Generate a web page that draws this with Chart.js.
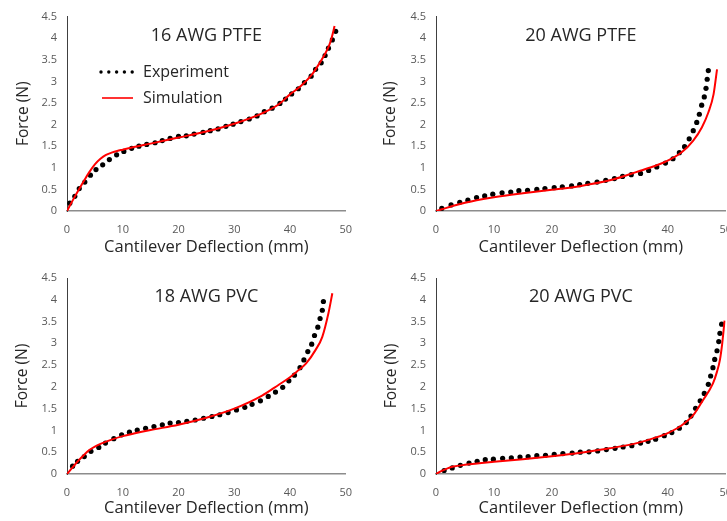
<!DOCTYPE html>
<html>
<head>
<meta charset="utf-8">
<script src="https://cdn.jsdelivr.net/npm/chart.js@4"></script>
<style>
  html, body { margin: 0; padding: 0; background: #fff; overflow: hidden; width: 727px; height: 521px; }
  .panel { position: absolute; }
</style>
</head>
<body>
<div class="panel" style="left:0;top:0"><canvas id="c16ptfe" width="364" height="260"></canvas></div>
<div class="panel" style="left:364px;top:0"><canvas id="c20ptfe" width="380" height="260"></canvas></div>
<div class="panel" style="left:0;top:260px"><canvas id="c18pvc" width="364" height="261"></canvas></div>
<div class="panel" style="left:364px;top:260px"><canvas id="c20pvc" width="380" height="261"></canvas></div>
<script>
// ── DATA ──────────────────────────────────────────────────────────────
const yTicks = [0, 0.5, 1, 1.5, 2, 2.5, 3, 3.5, 4, 4.5];
const xTicks = [0, 10, 20, 30, 40, 50];
const seriesNames = ['Experiment', 'Simulation'];

// 16 AWG PTFE
const ptfe16ExpX = [0.5, 1.4, 2.2, 3.2, 4.2, 5.2, 6.4, 7.6, 8.9, 10.2, 11.6, 12.9, 14.3, 15.8, 17.1, 18.5, 20.0, 21.4, 22.8, 24.4, 25.7, 27.1, 28.5, 29.8, 31.2, 32.7, 34.1, 35.4, 36.8, 38.2, 39.2, 40.3, 41.5, 42.6, 43.8, 44.6, 45.6, 46.3, 46.9, 47.6, 48.2];
const ptfe16ExpY = [0.18, 0.34, 0.52, 0.67, 0.83, 0.96, 1.07, 1.19, 1.30, 1.38, 1.45, 1.50, 1.54, 1.58, 1.63, 1.68, 1.73, 1.74, 1.78, 1.82, 1.86, 1.90, 1.96, 2.01, 2.07, 2.13, 2.20, 2.30, 2.38, 2.49, 2.59, 2.71, 2.83, 2.97, 3.12, 3.28, 3.43, 3.60, 3.77, 3.96, 4.16];
const ptfe16SimX = [0, 1, 2, 3, 4, 5, 6, 7, 8, 9, 10, 12, 15, 20, 25, 30, 35, 38, 40, 42, 44, 45, 46, 47, 47.5, 48];
const ptfe16SimY = [0, 0.24, 0.47, 0.69, 0.90, 1.08, 1.21, 1.30, 1.35, 1.39, 1.42, 1.48, 1.56, 1.70, 1.84, 2.02, 2.26, 2.47, 2.70, 2.90, 3.17, 3.36, 3.57, 3.82, 4.02, 4.28];

// 20 AWG PTFE
const ptfe20ExpX = [1.0, 2.6, 4.1, 5.5, 7.0, 8.4, 9.8, 11.4, 12.9, 14.3, 15.8, 17.4, 18.8, 20.4, 21.8, 23.4, 24.8, 26.2, 27.8, 29.3, 30.8, 32.2, 33.7, 35.3, 36.7, 38.1, 39.6, 40.9, 42.0, 42.9, 43.7, 44.4, 45.0, 45.45, 45.85, 46.3, 46.6, 46.8, 47.0];
const ptfe20ExpY = [0.06, 0.14, 0.20, 0.25, 0.31, 0.35, 0.39, 0.42, 0.44, 0.47, 0.48, 0.50, 0.52, 0.54, 0.56, 0.58, 0.61, 0.64, 0.67, 0.71, 0.75, 0.80, 0.84, 0.87, 0.94, 1.02, 1.11, 1.21, 1.35, 1.49, 1.67, 1.86, 2.05, 2.24, 2.45, 2.64, 2.84, 3.05, 3.25];
const ptfe20SimX = [0, 1, 3, 5, 7, 10, 15, 20, 25, 30, 35, 37.5, 39.6, 42.4, 44.4, 45.9, 47, 47.9, 48.5];
const ptfe20SimY = [0, 0.04, 0.12, 0.19, 0.25, 0.32, 0.41, 0.49, 0.58, 0.71, 0.92, 1.03, 1.14, 1.36, 1.63, 1.94, 2.28, 2.70, 3.28];

// 18 AWG PVC
const pvc18ExpX = [1.0, 1.9, 3.1, 4.3, 5.7, 6.9, 8.4, 9.8, 11.2, 12.6, 14.1, 15.6, 17.1, 18.5, 20.0, 21.5, 23.0, 24.5, 26.0, 27.4, 28.9, 30.4, 31.9, 33.2, 34.7, 36.1, 37.4, 38.7, 39.8, 40.8, 41.8, 42.5, 43.2, 43.9, 44.4, 45.0, 45.4, 45.8, 46.0];
const pvc18ExpY = [0.18, 0.29, 0.40, 0.52, 0.61, 0.71, 0.81, 0.90, 0.96, 1.01, 1.05, 1.09, 1.13, 1.17, 1.18, 1.21, 1.24, 1.28, 1.32, 1.36, 1.41, 1.47, 1.53, 1.60, 1.68, 1.78, 1.88, 1.99, 2.14, 2.27, 2.44, 2.62, 2.81, 2.98, 3.18, 3.37, 3.57, 3.76, 3.96];
const pvc18SimX = [0, 1, 2, 3, 4, 5, 6, 8, 10, 12, 15, 20, 25, 30, 35, 38, 40, 41.2, 42.9, 44.6, 45.8, 46.9, 47.6];
const pvc18SimY = [0, 0.15, 0.30, 0.43, 0.55, 0.63, 0.69, 0.79, 0.87, 0.93, 1.01, 1.13, 1.29, 1.50, 1.80, 2.05, 2.22, 2.35, 2.54, 2.85, 3.15, 3.69, 4.15];

// 20 AWG PVC
const pvc20ExpX = [1.4, 2.8, 4.2, 5.7, 7.1, 8.5, 9.9, 11.5, 13.0, 14.5, 15.9, 17.4, 18.9, 20.4, 21.9, 23.5, 24.9, 26.4, 27.9, 29.4, 30.9, 32.3, 33.8, 35.3, 36.6, 37.9, 39.4, 40.7, 42.0, 43.2, 44.0, 44.8, 45.6, 46.3, 47.0, 47.4, 47.8, 48.1, 48.5, 48.8, 49.0, 49.3];
const pvc20ExpY = [0.08, 0.14, 0.20, 0.25, 0.29, 0.33, 0.34, 0.36, 0.37, 0.39, 0.40, 0.42, 0.43, 0.45, 0.47, 0.48, 0.50, 0.51, 0.53, 0.56, 0.59, 0.62, 0.65, 0.71, 0.75, 0.80, 0.88, 0.95, 1.05, 1.18, 1.33, 1.51, 1.68, 1.85, 2.06, 2.25, 2.44, 2.63, 2.83, 3.04, 3.23, 3.44];
const pvc20SimX = [0, 1, 2, 3, 5, 10, 15, 20, 25, 30, 35, 38, 40, 42.1, 44.4, 46.1, 47.8, 48.5, 49, 49.4, 49.8];
const pvc20SimY = [0, 0.07, 0.13, 0.17, 0.21, 0.28, 0.34, 0.41, 0.49, 0.59, 0.72, 0.84, 0.94, 1.09, 1.35, 1.70, 2.08, 2.35, 2.62, 3.00, 3.52];

// ── HELPERS ───────────────────────────────────────────────────────────
const FONT = "'Open Sans', sans-serif";
const TEXT_DARK = '#262626';
const TEXT_TICK = '#595959';

const pts = (xs, ys) => xs.map((x, i) => ({ x: x, y: ys[i] }));

// panel title drawn inside the plot area, like the Excel original
const panelTitle = {
  id: 'panelTitle',
  afterDraw(chart, args, opts) {
    if (!opts.text) return;
    const { ctx, chartArea } = chart;
    ctx.save();
    ctx.font = '18px ' + FONT;
    ctx.fillStyle = TEXT_DARK;
    ctx.textAlign = 'center';
    ctx.textBaseline = 'middle';
    ctx.fillText(opts.text, (chartArea.left + chartArea.right) / 2, chartArea.top + opts.dy);
    ctx.restore();
  }
};

// legend of the first panel only
const panelLegend = {
  id: 'panelLegend',
  afterDraw(chart, args, opts) {
    if (!opts.show) return;
    const ctx = chart.ctx;
    ctx.save();
    ctx.fillStyle = '#000';
    for (let i = 0; i < 5; i++) {
      ctx.beginPath();
      ctx.arc(101 + i * 7.8, 72, 1.7, 0, Math.PI * 2);
      ctx.fill();
    }
    ctx.strokeStyle = '#ff0000';
    ctx.lineWidth = 1.6;
    ctx.beginPath();
    ctx.moveTo(102, 98);
    ctx.lineTo(133, 98);
    ctx.stroke();
    ctx.font = '16px ' + FONT;
    ctx.fillStyle = TEXT_DARK;
    ctx.textBaseline = 'middle';
    ctx.fillText(seriesNames[0], 143, 72);
    ctx.fillText(seriesNames[1], 143, 98);
    ctx.restore();
  }
};

function makePanel(id, title, expX, expY, simX, simY, cfg) {
  return new Chart(document.getElementById(id), {
    type: 'scatter',
    data: {
      datasets: [{
        label: seriesNames[1],
        data: pts(simX, simY),
        showLine: true,
        borderColor: '#ff0000',
        borderWidth: 2,
        pointRadius: 0,
        cubicInterpolationMode: 'monotone',
        fill: false
      }, {
        label: seriesNames[0],
        data: pts(expX, expY),
        showLine: false,
        pointRadius: 2.6,
        pointBackgroundColor: '#000',
        pointBorderWidth: 0
      }]
    },
    plugins: [panelTitle, panelLegend],
    options: {
      responsive: false,
      animation: false,
      layout: { padding: { top: cfg.top, right: cfg.right, left: 0, bottom: 0 } },
      plugins: {
        legend: { display: false },
        tooltip: { enabled: false },
        panelTitle: { text: title, dy: 19 },
        panelLegend: { show: !!cfg.legend }
      },
      scales: {
        x: {
          type: 'linear', min: 0, max: 50,
          afterBuildTicks: ax => { ax.ticks = xTicks.map(v => ({ value: v })); },
          afterFit: ax => { ax.height = cfg.xh; },
          grid: { display: false, drawTicks: false },
          border: { display: true, color: '#8c8c8c', width: 1.5 },
          ticks: { color: TEXT_TICK, font: { family: FONT, size: 11 }, padding: 12, maxRotation: 0, callback: v => String(v) },
          title: { display: true, text: 'Cantilever Deflection (mm)', color: TEXT_DARK, font: { family: FONT, size: 16.5 }, padding: { top: 0, bottom: 3 } }
        },
        y: {
          min: 0, max: 4.5,
          afterBuildTicks: ax => { ax.ticks = yTicks.map(v => ({ value: v })); },
          afterFit: ax => { ax.width = cfg.yw; },
          grid: { display: false, drawTicks: false },
          border: { display: true, color: '#404040', width: 1 },
          ticks: { color: TEXT_TICK, font: { family: FONT, size: 11 }, padding: 10, callback: v => String(v) },
          title: { display: true, text: 'Force (N)', color: TEXT_DARK, font: { family: FONT, size: 15.5 }, padding: { top: cfg.yt, bottom: 0 } }
        }
      }
    }
  });
}

makePanel('c16ptfe', '16 AWG PTFE', ptfe16ExpX, ptfe16ExpY, ptfe16SimX, ptfe16SimY,
  { top: 15, right: 6, xh: 49, yw: 67, yt: 14, legend: true });
makePanel('c20ptfe', '20 AWG PTFE', ptfe20ExpX, ptfe20ExpY, ptfe20SimX, ptfe20SimY,
  { top: 15, right: 18, xh: 49, yw: 72, yt: 17 });
makePanel('c18pvc', '18 AWG PVC', pvc18ExpX, pvc18ExpY, pvc18SimX, pvc18SimY,
  { top: 18, right: 6, xh: 47, yw: 67, yt: 13 });
makePanel('c20pvc', '20 AWG PVC', pvc20ExpX, pvc20ExpY, pvc20SimX, pvc20SimY,
  { top: 18, right: 18, xh: 47, yw: 72, yt: 18 });
</script>
</body>
</html>
